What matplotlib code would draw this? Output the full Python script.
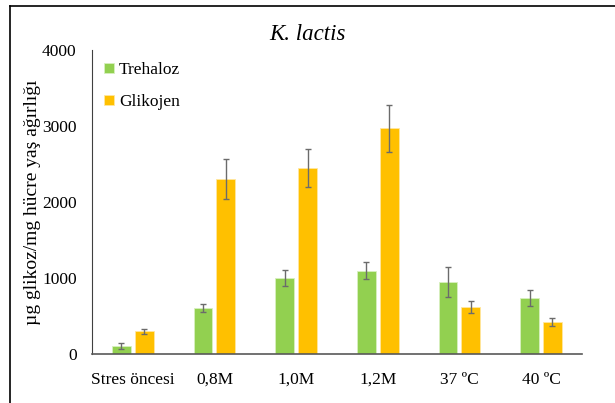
import numpy as np
import matplotlib.pyplot as plt
from matplotlib.lines import Line2D

categories = ["Stres öncesi", "0,8M", "1,0M", "1,2M", "37 ºC", "40 ºC"]
trehaloz = [105, 605, 1000, 1095, 950, 740]
trehaloz_err = [40, 50, 105, 110, 200, 105]
glikojen = [302, 2300, 2450, 2970, 620, 420]
glikojen_err = [33, 263, 250, 310, 80, 50]

plt.rcParams['font.family'] = ['Liberation Serif', 'DejaVu Serif']

fig = plt.figure(figsize=(6.15, 4.03), dpi=100)
ax = fig.add_axes([0.1496, 0.1216, 0.7964, 0.754])

x = np.arange(len(categories))
w = 0.23
ax.bar(x - 0.14, trehaloz, w, color="#92D050", edgecolor="#d8f0c0", linewidth=0.6,
       label="Trehaloz", zorder=2)
ax.bar(x + 0.14, glikojen, w, color="#FFC000", edgecolor="#ffe7a0", linewidth=0.6,
       label="Glikojen", zorder=2)
ax.errorbar(x - 0.14, trehaloz, yerr=trehaloz_err, fmt="none", ecolor="#6b6b6b",
            elinewidth=1, capsize=2.5, capthick=1, zorder=3)
ax.errorbar(x + 0.14, glikojen, yerr=glikojen_err, fmt="none", ecolor="#6b6b6b",
            elinewidth=1, capsize=2.5, capthick=1, zorder=3)

ax.set_xlim(-0.5, 5.5)
ax.set_ylim(0, 4000)
ax.set_yticks([0, 1000, 2000, 3000, 4000])
ax.set_xticks(x)
ax.set_xticklabels(categories, fontsize=12.5)
ax.tick_params(axis="y", labelsize=12.5, length=0, pad=11)
ax.tick_params(axis="x", length=0, pad=13)
for s in ["top", "right"]:
    ax.spines[s].set_visible(False)
ax.spines["left"].set_color("#404040")
ax.spines["bottom"].set_color("#595959")
ax.spines["bottom"].set_linewidth(1.2)

ax.set_ylabel("µg glikoz/mg hücre yaş ağırlığı", fontsize=14, labelpad=1)
fig.text(0.5, 1 - 35 / 403, "K. lactis", fontstyle="italic", fontsize=16.5,
         ha="center", va="center")

ax.legend(loc="upper left", bbox_to_anchor=(0.0, 1.0), frameon=False, fontsize=12.5,
          handlelength=0.55, handleheight=0.55, handletextpad=0.3, labelspacing=0.9,
          borderaxespad=0.3)

# outer frame (left and top edges visible)
fig.add_artist(Line2D([10 / 615, 10 / 615], [0, 1 - 6 / 403], color="black", lw=1.2,
                      transform=fig.transFigure))
fig.add_artist(Line2D([10 / 615, 1], [1 - 6 / 403, 1 - 6 / 403], color="black", lw=1.2,
                      transform=fig.transFigure))

fig.savefig("out.png", dpi=100)
